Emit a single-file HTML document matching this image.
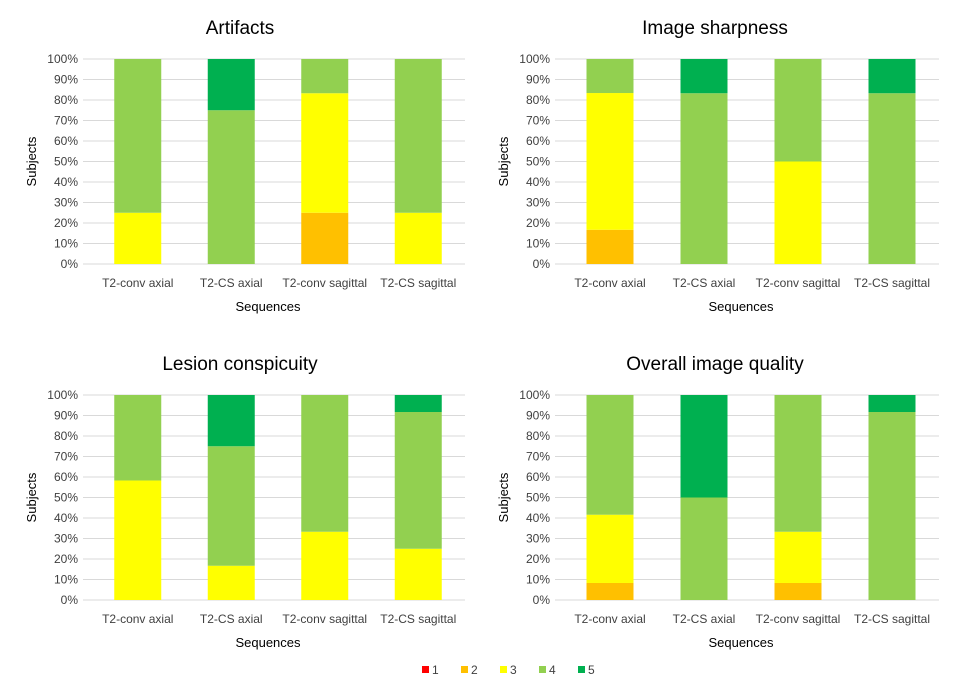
<!DOCTYPE html>
<html><head><meta charset="utf-8"><style>
body{margin:0;background:#fff;}
svg{display:block;font-family:"Liberation Sans",Arial,sans-serif;}
</style></head><body>
<svg id="c" width="957" height="688"></svg>
<script>
const categories=["T2-conv axial","T2-CS axial","T2-conv sagittal","T2-CS sagittal"];
const titles=["Artifacts","Image sharpness","Lesion conspicuity","Overall image quality"];
const scoreLabels=["1","2","3","4","5"];
const colors=["#FF0000","#FFC000","#FFFF00","#92D050","#00B050"];
const yTicks=[0,10,20,30,40,50,60,70,80,90,100];
// values per panel: per category [s1,s2,s3,s4,s5] in %
const artifacts=[[0,0,25,75,0],[0,0,0,75,25],[0,25,58.3,16.7,0],[0,0,25,75,0]];
const sharpness=[[0,16.7,66.7,16.6,0],[0,0,0,83.3,16.7],[0,0,50,50,0],[0,0,0,83.3,16.7]];
const lesion=[[0,0,58.3,41.7,0],[0,0,16.7,58.3,25],[0,0,33.3,66.7,0],[0,0,25,66.7,8.3]];
const overall=[[0,8.3,33.3,58.4,0],[0,0,0,50,50],[0,8.3,25,66.7,0],[0,0,0,91.7,8.3]];
const panelsData=[artifacts,sharpness,lesion,overall];

const NS="http://www.w3.org/2000/svg";
const svg=document.getElementById('c');
function mk(t,a,p){const e=document.createElementNS(NS,t);for(const k in a)e.setAttribute(k,a[k]);(p||svg).appendChild(e);return e;}
const panels=[{x0:91,x1:465,yb:264,yt:59,lx:78,tx:240},{x0:563,x1:939,yb:264,yt:59,lx:550,tx:715},
{x0:91,x1:465,yb:600,yt:395,lx:78,tx:240},{x0:563,x1:939,yb:600,yt:395,lx:550,tx:715}];
panels.forEach((p,pi)=>{
  const g=mk('g',{});
  
  
  const y=v=>p.yb-(p.yb-p.yt)*v/100;
  const step=(p.x1-p.x0)/categories.length;
  const xc=i=>p.x0+step*(i+0.5);
  yTicks.forEach(t=>{
    const l=mk('line',{x1:p.x0-8,x2:p.x1,y1:y(t),y2:y(t),stroke:'#d9d9d9','stroke-width':1},g);
    
    const tx=mk('text',{x:p.lx,y:y(t)+4,'text-anchor':'end','font-size':12,fill:'#404040'},g);
    tx.textContent=t+'%';
    
  });
  const d=panelsData[pi];
  categories.forEach((c,i)=>{
    let acc=0;
    d[i].forEach((v,s)=>{
      if(v>0){const r=mk('rect',{x:xc(i)-23.5,width:47,y:y(acc+v),height:y(acc)-y(acc+v),fill:colors[s]},g);
      }
      acc+=v;
    });
    const ct=mk('text',{x:xc(i),y:p.yb+23,'text-anchor':'middle','font-size':12,fill:'#404040'},g);
    ct.textContent=c;
    
  });
  const title=mk('text',{x:p.tx,y:p.yt-25,'text-anchor':'middle','font-size':19,fill:'#000'},g);
  title.textContent=titles[pi];
  
  const xt=mk('text',{x:(p.x0+p.x1)/2-10,y:p.yb+47,'text-anchor':'middle','font-size':13,fill:'#000'},g);
  xt.textContent='Sequences';
  
  const cy=(p.yb+p.yt)/2;
  const yt=mk('text',{x:p.lx-42,y:cy,'text-anchor':'middle','font-size':13,fill:'#000',transform:`rotate(-90 ${p.lx-42} ${cy})`},g);
  yt.textContent='Subjects';
  
});
const lg=mk('g',{});

scoreLabels.forEach((s,i)=>{
  const x=422+i*39;
  const r=mk('rect',{x:x,y:666,width:7,height:7,fill:colors[i]},lg);
  
  const t=mk('text',{x:x+10,y:674,'font-size':12,fill:'#404040'},lg);
  t.textContent=s;
  
});
</script>
</body></html>
